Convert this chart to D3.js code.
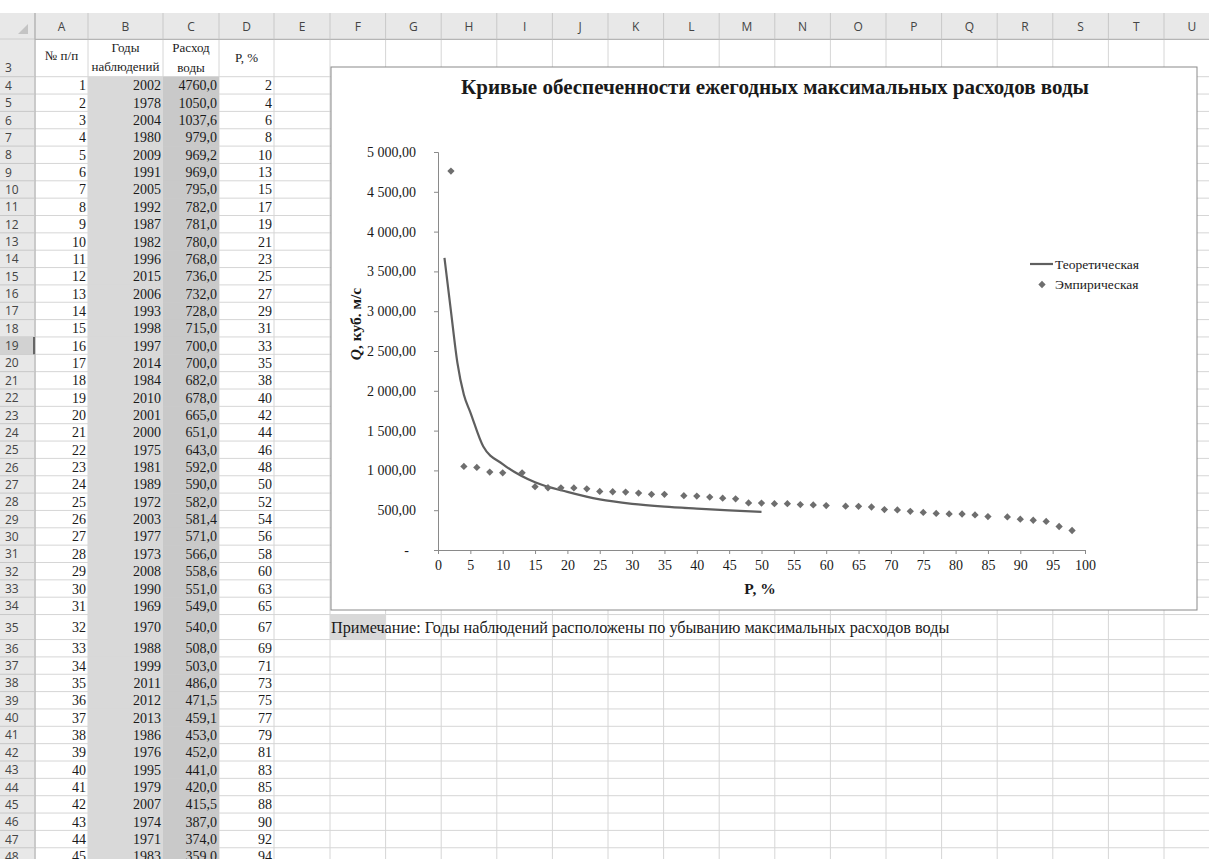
<!DOCTYPE html>
<html>
<head>
<meta charset="utf-8">
<script src="https://cdn.jsdelivr.net/npm/d3@7"></script>
<style>
  body { margin: 0; background: #fff; overflow: hidden; }
  svg { display: block; }
  .serif { font-family: "Liberation Serif", "Times New Roman", serif; fill: #1a1a1a; }
  .hdr { font-family: "Open Sans", "Noto Sans", sans-serif; font-size: 12px; fill: #444; }
</style>
</head>
<body>
<script>
// table data (rows 4..48 of the sheet)
const rowNums = d3.range(1, 46);
const years = [2002,1978,2004,1980,2009,1991,2005,1992,1987,1982,1996,2015,2006,1993,1998,1997,2014,1984,2010,2001,
  2000,1975,1981,1989,1972,2003,1977,1973,2008,1990,1969,1970,1988,1999,2011,2012,2013,1986,1976,1995,1979,2007,1974,1971,1983];
// empirical series (last two rows are below the visible sheet)
const empQ = [4760.0,1050.0,1037.6,979.0,969.2,969.0,795.0,782.0,781.0,780.0,768.0,736.0,732.0,728.0,715.0,700.0,700.0,682.0,678.0,665.0,
  651.0,643.0,592.0,590.0,582.0,581.4,571.0,566.0,558.6,551.0,549.0,540.0,508.0,503.0,486.0,471.5,459.1,453.0,452.0,441.0,420.0,415.5,387.0,374.0,359.0,
  295.0,245.0];
const empP = [2,4,6,8,10,13,15,17,19,21,23,25,27,29,31,33,35,38,40,42,44,46,48,50,52,54,56,58,60,63,65,67,69,71,73,75,77,79,81,83,85,88,90,92,94,
  96,98];
// theoretical curve
const theoP = [1, 2, 3, 4, 5, 7, 10, 15, 20, 25, 30, 35, 40, 45, 50];
const theoQ = [3670, 3000, 2350, 1950, 1730, 1300, 1080, 850, 730, 635, 580, 545, 520, 497, 478];

const colLetters = "ABCDEFGHIJKLMNOPQRSTU".split("");
const yTicks = d3.range(0, 5001, 500);
const xTicks = d3.range(0, 101, 5);

const W = 1209, H = 859;
const svg = d3.select("body").append("svg").attr("width", W).attr("height", H);

// ---- sheet geometry
const colW = [53, 75, 56, 55, 56].concat(d3.range(16).map(() => 55.6));
const colX = [35];
colW.forEach((w, i) => colX.push(colX[i] + w));
const hdrTop = 13, hdrBot = 39.3;
const rowH = [37.4];              // row 3
for (let r = 4; r <= 48; r++) rowH.push(r === 35 ? 25 : 17.35);
const rowY = [hdrBot];
rowH.forEach((h, i) => rowY.push(rowY[i] + h));
const rowIdx = r => r - 3;   // index into rowY

const grid = svg.append("g");
// vertical grid
colX.forEach(x => grid.append("line").attr("x1", x).attr("x2", x).attr("y1", hdrBot).attr("y2", H)
  .attr("stroke", "#d6d6d6"));
// horizontal grid
rowY.forEach(y => grid.append("line").attr("x1", 35).attr("x2", W).attr("y1", y).attr("y2", y)
  .attr("stroke", "#d6d6d6"));

// filled columns B and C
for (let r = 4; r <= 48; r++) {
  const y0 = rowY[rowIdx(r)], h = rowH[rowIdx(r)];
  grid.append("rect").attr("x", colX[1]).attr("y", y0).attr("width", colW[1]).attr("height", h + 0.5).attr("fill", "#d9d9d9");
  grid.append("rect").attr("x", colX[2]).attr("y", y0).attr("width", colW[2]).attr("height", h + 0.5).attr("fill", "#c9c9c9");
}
// grey cell F35
grid.append("rect").attr("x", colX[5]).attr("y", rowY[rowIdx(35)]).attr("width", colW[5]).attr("height", rowH[rowIdx(35)])
  .attr("fill", "#d9d9d9");

// column header
svg.append("rect").attr("x", 0).attr("y", hdrTop).attr("width", W).attr("height", hdrBot - hdrTop).attr("fill", "#e8e8e8");
svg.append("line").attr("x1", 0).attr("x2", W).attr("y1", hdrBot).attr("y2", hdrBot).attr("stroke", "#ababab");
colX.forEach(x => svg.append("line").attr("x1", x).attr("x2", x).attr("y1", hdrTop).attr("y2", hdrBot).attr("stroke", "#c8c8c8"));
colLetters.forEach((c, i) => svg.append("text").attr("class", "hdr")
  .attr("x", colX[i] + colW[i] / 2).attr("y", 31).attr("text-anchor", "middle").text(c));
svg.append("path").attr("d", "M28,24 L28,34 L18,34 Z").attr("fill", "#c4c4c4");

// row header
svg.append("rect").attr("x", 0).attr("y", hdrBot).attr("width", 35).attr("height", H - hdrBot).attr("fill", "#e8e8e8");
svg.append("line").attr("x1", 35).attr("x2", 35).attr("y1", hdrTop).attr("y2", H).attr("stroke", "#ababab");
for (let r = 3; r <= 48; r++) {
  const y0 = rowY[rowIdx(r)], h = rowH[rowIdx(r)];
  svg.append("line").attr("x1", 0).attr("x2", 35).attr("y1", y0 + h).attr("y2", y0 + h).attr("stroke", "#c8c8c8");
  if (r === 19) {
    svg.append("rect").attr("x", 0).attr("y", y0).attr("width", 35).attr("height", h).attr("fill", "#d2d2d2");
    svg.append("line").attr("x1", 34).attr("x2", 34).attr("y1", y0).attr("y2", y0 + h).attr("stroke", "#666").attr("stroke-width", 2);
  }
  svg.append("text").attr("class", "hdr").attr("x", 5).attr("y", r === 3 ? y0 + h - 5 : y0 + h / 2 + 4.5).text(r);
}

// table header row 3
const cell = svg.append("g").attr("class", "serif").style("font-size", "14px");
const cx = i => colX[i] + colW[i] / 2;
cell.append("text").attr("x", cx(0)).attr("y", 60).attr("text-anchor", "middle").style("font-size", "13px").text("№ п/п");
cell.append("text").attr("x", cx(1)).attr("y", 52).attr("text-anchor", "middle").style("font-size", "13px").text("Годы");
cell.append("text").attr("x", cx(1)).attr("y", 71).attr("text-anchor", "middle").style("font-size", "13px").text("наблюдений");
cell.append("text").attr("x", cx(2)).attr("y", 52).attr("text-anchor", "middle").style("font-size", "13px").text("Расход");
cell.append("text").attr("x", cx(2)).attr("y", 72).attr("text-anchor", "middle").style("font-size", "13px").text("воды");
cell.append("text").attr("x", cx(3)).attr("y", 62).attr("text-anchor", "middle").style("font-size", "13px").text("P, %");

rowNums.forEach((n, i) => {
  const r = i + 4;
  const y = rowY[rowIdx(r)] + rowH[rowIdx(r)] / 2 + 5;
  cell.append("text").attr("x", colX[1] - 2).attr("y", y).attr("text-anchor", "end").text(n);
  cell.append("text").attr("x", colX[2] - 2).attr("y", y).attr("text-anchor", "end").text(years[i]);
  cell.append("text").attr("x", colX[3] - 2).attr("y", y).attr("text-anchor", "end").text(empQ[i].toFixed(1).replace(".", ","));
  cell.append("text").attr("x", colX[4] - 2).attr("y", y).attr("text-anchor", "end").text(empP[i]);
});

// note
svg.append("text").attr("class", "serif").style("font-size", "16.2px")
  .attr("x", 331).attr("y", rowY[rowIdx(35)] + 18)
  .text("Примечание: Годы наблюдений расположены по убыванию максимальных расходов воды");

// ---- chart
const box = { x: 331, y: 67, w: 866, h: 543 };
const chart = svg.append("g");
chart.append("rect").attr("x", box.x).attr("y", box.y).attr("width", box.w).attr("height", box.h)
  .attr("fill", "#fff").attr("stroke", "#8a8a8a");

chart.append("text").attr("class", "serif").attr("x", 775).attr("y", 94)
  .attr("text-anchor", "middle").style("font-size", "21px").style("font-weight", "bold")
  .text("Кривые обеспеченности ежегодных максимальных расходов воды");

const x = d3.scaleLinear().domain([0, 100]).range([438, 1085]);
const y = d3.scaleLinear().domain([0, 5000]).range([550, 152]);

const fmtY = v => v === 0 ? "-" : d3.format(",.2f")(v).replace(/,/g, " ").replace(".", ",");

const yAxis = chart.append("g").attr("transform", "translate(438,0)")
  .call(d3.axisLeft(y).tickValues(yTicks).tickSize(4).tickPadding(18).tickFormat(fmtY));
const xAxis = chart.append("g").attr("transform", "translate(0,550)")
  .call(d3.axisBottom(x).tickValues(xTicks).tickSize(4).tickPadding(6));
[xAxis, yAxis].forEach(a => {
  a.select(".domain").attr("stroke", "#8a8a8a");
  a.selectAll(".tick line").attr("stroke", "#8a8a8a");
  a.selectAll("text").attr("class", "serif").style("font-size", "14px").attr("fill", "#1a1a1a");
});
yAxis.selectAll(".tick").filter(d => d === 0).select("text").attr("dx", -7);

// theoretical curve
const line = d3.line().x((d, i) => x(theoP[i])).y(d => y(d)).curve(d3.curveMonotoneX);
chart.append("path").datum(theoQ).attr("d", line).attr("fill", "none")
  .attr("stroke", "#5f5f5f").attr("stroke-width", 2.2);

// empirical points
const diamond = d3.symbol().type(d3.symbolDiamond2).size(34);
chart.selectAll(".pt").data(empQ).enter().append("path")
  .attr("transform", (d, i) => `translate(${x(empP[i])},${y(d)})`)
  .attr("d", diamond).attr("fill", "#6e6e6e");

// axis titles
const yt = chart.append("text").attr("class", "serif").attr("transform", "translate(361,324) rotate(-90)")
  .attr("text-anchor", "middle").style("font-size", "15.5px").style("font-weight", "bold");
yt.append("tspan").style("font-style", "italic").text("Q");
yt.append("tspan").text(", куб. м/с");
chart.append("text").attr("class", "serif").attr("x", 760).attr("y", 594).attr("text-anchor", "middle")
  .style("font-size", "15.5px").style("font-weight", "bold").text("P, %");

// legend
const lg = chart.append("g");
lg.append("line").attr("x1", 1030).attr("x2", 1053).attr("y1", 264).attr("y2", 264)
  .attr("stroke", "#5f5f5f").attr("stroke-width", 2.2);
lg.append("text").attr("class", "serif").attr("x", 1055).attr("y", 268.5).style("font-size", "13.5px").text("Теоретическая");
lg.append("path").attr("transform", "translate(1042,284.5)").attr("d", diamond).attr("fill", "#6e6e6e");
lg.append("text").attr("class", "serif").attr("x", 1055).attr("y", 289).style("font-size", "13.5px").text("Эмпирическая");
</script>
</body>
</html>
